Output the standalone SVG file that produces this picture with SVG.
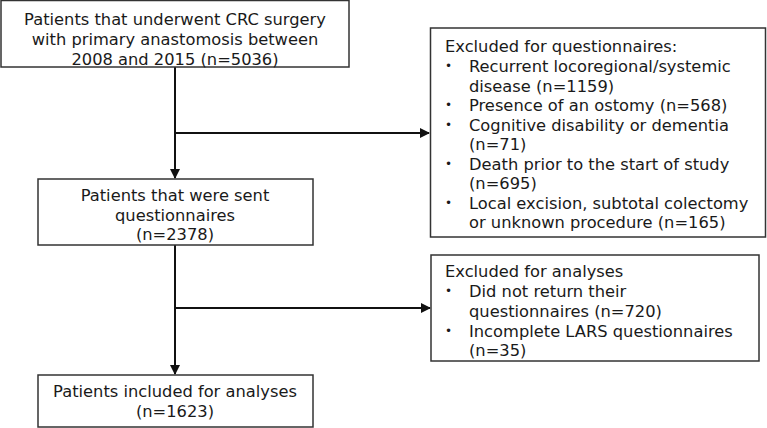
<svg xmlns="http://www.w3.org/2000/svg" width="767" height="428" viewBox="0 0 767 428">
<style>
.box{fill:#fff;stroke:#333;stroke-width:1.5}
.t{font-family:"DejaVu Sans",Verdana,sans-serif;font-size:16.3px;fill:#1a1a1a}
.c{text-anchor:middle}
.b{font-size:12px}
.ln{stroke:#111;stroke-width:2;fill:none}
</style>
<defs>
<marker id="ah" markerWidth="10" markerHeight="10" refX="9" refY="5" orient="auto" markerUnits="userSpaceOnUse">
<path d="M0,0 L10,5 L0,10 Z" fill="#111"/>
</marker>
</defs>
<rect width="767" height="428" fill="#fff"/>
<g id="connectors">
<path class="ln" d="M175,67 V178" marker-end="url(#ah)"/>
<path class="ln" d="M175,133 H429" marker-end="url(#ah)"/>
<path class="ln" d="M175,245 V374" marker-end="url(#ah)"/>
<path class="ln" d="M175,308 H430" marker-end="url(#ah)"/>
</g>
<g id="n1">
<rect class="box" x="1" y="0.5" width="348" height="66.5"/>
<text class="t c" x="175" y="25">Patients that underwent CRC surgery</text>
<text class="t c" x="175" y="45">with primary anastomosis between</text>
<text class="t c" x="175" y="65">2008 and 2015 (n=5036)</text>
</g>
<g id="n2">
<rect class="box" x="38" y="179" width="275" height="66"/>
<text class="t c" x="175" y="201">Patients that were sent</text>
<text class="t c" x="175" y="221">questionnaires</text>
<text class="t c" x="175" y="240">(n=2378)</text>
</g>
<g id="n3">
<rect class="box" x="430.5" y="28" width="335" height="209"/>
<text class="t" x="445" y="52">Excluded for questionnaires:</text>
<g class="t">
<text class="b" x="445" y="70">•</text><text x="469" y="72">Recurrent locoregional/systemic</text>
<text x="469" y="91.5">disease (n=1159)</text>
<text class="b" x="445" y="109">•</text><text x="469" y="111">Presence of an ostomy (n=568)</text>
<text class="b" x="445" y="128.5">•</text><text x="469" y="130.5">Cognitive disability or dementia</text>
<text x="469" y="150">(n=71)</text>
<text class="b" x="445" y="167.5">•</text><text x="469" y="169.5">Death prior to the start of study</text>
<text x="469" y="189">(n=695)</text>
<text class="b" x="445" y="206.5">•</text><text x="469" y="208.5">Local excision, subtotal colectomy</text>
<text x="469" y="228">or unknown procedure (n=165)</text>
</g>
</g>
<g id="n4">
<rect class="box" x="431" y="255" width="328" height="106"/>
<text class="t" x="445" y="277">Excluded for analyses</text>
<g class="t">
<text class="b" x="445" y="295">•</text><text x="469" y="297">Did not return their</text>
<text x="469" y="317">questionnaires (n=720)</text>
<text class="b" x="445" y="335">•</text><text x="469" y="337">Incomplete LARS questionnaires</text>
<text x="469" y="356">(n=35)</text>
</g>
</g>
<g id="n5">
<rect class="box" x="38" y="375" width="275" height="52"/>
<text class="t c" x="175" y="397">Patients included for analyses</text>
<text class="t c" x="175" y="417">(n=1623)</text>
</g>
</svg>
